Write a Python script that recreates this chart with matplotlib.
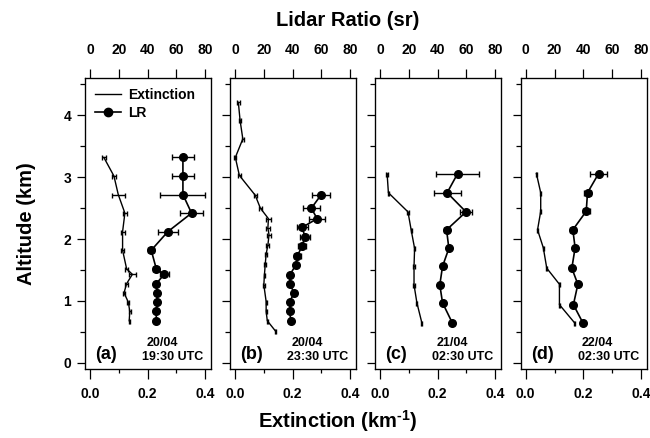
import matplotlib
matplotlib.use("Agg")
import matplotlib.pyplot as plt
from matplotlib.lines import Line2D
import numpy as np

plt.rcParams['font.family'] = ['Liberation Sans', 'DejaVu Sans']
plt.rcParams['font.weight'] = 'bold'
plt.rcParams['mathtext.fontset'] = 'custom'
plt.rcParams['mathtext.rm'] = 'Liberation Sans:bold'
plt.rcParams['mathtext.bf'] = 'Liberation Sans:bold'
plt.rcParams['mathtext.default'] = 'bf'

# panel (a) 20/04 19:30 UTC
alt_a = [3.32, 3.02, 2.72, 2.42, 2.12, 1.82, 1.52, 1.43, 1.28, 1.13, 0.98, 0.83, 0.68]
ext_a = [0.048, 0.083, 0.098, 0.121, 0.113, 0.113, 0.127, 0.147, 0.127, 0.118, 0.133, 0.138, 0.136]
ext_err_a = [0.006, 0.006, 0.022, 0.007, 0.007, 0.005, 0.005, 0.013, 0.004, 0.004, 0.004, 0.003, 0.002]
lr_a = [64.5, 64.5, 64.5, 70.5, 54.0, 42.5, 46.0, 51.5, 46.0, 46.5, 46.5, 46.0, 46.0]
lr_err_a = [7.8, 7.8, 15.6, 8.0, 7.0, 2.0, 2.0, 3.0, 1.5, 1.5, 1.5, 1.0, 1.0]

# panel (b) 20/04 23:30 UTC
alt_ext_b = [4.21, 3.92, 3.62, 3.32, 3.03, 2.71, 2.50, 2.33, 2.18, 2.07, 1.90, 1.76, 1.60, 1.42, 1.26, 0.99, 0.83, 0.68, 0.51]
ext_b = [0.0115, 0.0175, 0.027, 0.001, 0.015, 0.070, 0.088, 0.116, 0.114, 0.118, 0.114, 0.108, 0.105, 0.102, 0.100, 0.108, 0.108, 0.112, 0.141]
ext_err_b = [0.005, 0.004, 0.003, 0.004, 0.004, 0.005, 0.006, 0.010, 0.006, 0.006, 0.005, 0.004, 0.004, 0.003, 0.003, 0.002, 0.002, 0.002, 0.002]
alt_lr_b = [2.71, 2.50, 2.33, 2.19, 2.04, 1.89, 1.73, 1.58, 1.42, 1.28, 1.13, 0.99, 0.83, 0.68]
lr_b = [59.6, 53.0, 57.0, 46.6, 48.5, 46.6, 43.3, 42.2, 38.0, 38.0, 41.0, 38.0, 38.0, 38.7]
lr_err_b = [6.4, 6.0, 5.7, 3.8, 3.5, 3.0, 2.5, 1.5, 1.5, 1.0, 1.0, 1.0, 1.0, 1.0]

# panel (c) 21/04 02:30 UTC
alt_c = [3.06, 2.75, 2.44, 2.15, 1.85, 1.56, 1.26, 0.97, 0.65]
ext_c = [0.0245, 0.029, 0.097, 0.108, 0.120, 0.118, 0.118, 0.128, 0.145]
ext_err_c = [0.003, 0.003, 0.003, 0.002, 0.002, 0.002, 0.002, 0.002, 0.002]
lr_c = [53.9, 46.6, 59.7, 46.2, 47.8, 43.4, 41.5, 43.4, 50.1]
lr_err_c = [15.0, 9.3, 4.5, 2.0, 1.0, 1.0, 1.0, 1.0, 1.0]

# panel (d) 22/04 02:30 UTC
alt_d = [3.06, 2.75, 2.45, 2.15, 1.86, 1.53, 1.27, 0.94, 0.65]
ext_d = [0.037, 0.052, 0.052, 0.041, 0.061, 0.073, 0.117, 0.117, 0.169]
ext_err_d = [0.002, 0.002, 0.002, 0.002, 0.001, 0.001, 0.001, 0.001, 0.001]
lr_d = [50.6, 42.9, 42.0, 32.7, 34.3, 32.0, 36.2, 33.1, 39.6]
lr_err_d = [5.8, 2.5, 2.5, 2.0, 1.0, 1.0, 1.0, 1.0, 1.0]

panels = [
    ('(a)', '20/04', '19:30 UTC', alt_a, ext_a, ext_err_a, alt_a, lr_a, lr_err_a),
    ('(b)', '20/04', '23:30 UTC', alt_ext_b, ext_b, ext_err_b, alt_lr_b, lr_b, lr_err_b),
    ('(c)', '21/04', '02:30 UTC', alt_c, ext_c, ext_err_c, alt_c, lr_c, lr_err_c),
    ('(d)', '22/04', '02:30 UTC', alt_d, ext_d, ext_err_d, alt_d, lr_d, lr_err_d),
]

W, H = 650, 438
fig = plt.figure(figsize=(6.5, 4.38), dpi=100)
lefts = [85, 230, 375, 520.7]
pw, top, bot = 126, 78.3, 369
xlim = (-0.0175, 0.42)

for i, (tag, day, hour, ae, ex, exe, al, lr, lre) in enumerate(panels):
    ax = fig.add_axes([lefts[i] / W, (H - bot) / H, pw / W, (bot - top) / H])
    ax.errorbar(ex, ae, xerr=exe, color='black', lw=1.0, elinewidth=1.0,
                capsize=1.8, capthick=1.0)
    ax.set_xlim(xlim)
    ax.set_ylim(-0.1, 4.6)
    ax.set_xticks([0, 0.2, 0.4])
    ax.set_xticklabels(['0.0', '0.2', '0.4'])
    ax.set_xticks([0.1, 0.3], minor=True)
    ax.set_yticks([0, 1, 2, 3, 4])
    ax.set_yticks([0.5, 1.5, 2.5, 3.5, 4.5], minor=True)
    ax.tick_params(axis='x', which='major', length=7, width=0.9, labelsize=10, pad=6)
    ax.tick_params(axis='x', which='minor', length=3, width=0.9)
    ax.tick_params(axis='y', which='major', length=6, width=0.9, labelsize=10, pad=4)
    ax.tick_params(axis='y', which='minor', length=3.5, width=0.9)
    if i > 0:
        ax.set_yticklabels([])
    for s in ax.spines.values():
        s.set_linewidth(0.9)

    ax2 = ax.twiny()
    ax2.errorbar(lr, al, xerr=lre, color='black', lw=1.2, marker='o', ms=5.5,
                 elinewidth=1.0, capsize=2.5, capthick=1.0)
    ax2.set_xlim(xlim[0] * 200, xlim[1] * 200)
    ax2.set_xticks([0, 20, 40, 60, 80])
    ax2.tick_params(axis='x', length=6.5, width=0.9, labelsize=10, pad=9)

    ax.text(0.08, 0.05, tag, transform=ax.transAxes, fontsize=13,
            fontweight='bold', ha='left', va='center')
    ax.text(0.487, 0.09, day, transform=ax.transAxes, fontsize=9,
            fontweight='bold', ha='left', va='center')
    ax.text(0.455, 0.042, hour, transform=ax.transAxes, fontsize=9,
            fontweight='bold', ha='left', va='center')

    if i == 0:
        ax.set_ylabel('Altitude (km)', fontsize=14.5, fontweight='bold', labelpad=20)
        handles = [Line2D([], [], color='black', lw=1.0),
                   Line2D([], [], color='black', lw=1.2, marker='o', ms=6)]
        ax.legend(handles, ['Extinction', 'LR'], loc='upper left', frameon=False,
                  fontsize=10, handlelength=1.9, handletextpad=0.5,
                  labelspacing=0.3, borderaxespad=0.3, bbox_to_anchor=(0.0, 1.0))

fig.text(0.535, 1 - 20 / H, 'Lidar Ratio (sr)', fontsize=14.5, fontweight='bold',
         ha='center', va='center')
fig.text(0.52, 1 - 421 / H, r'Extinction (km$^{\text{-1}}$)', fontsize=14.5,
         fontweight='bold', ha='center', va='center')

fig.savefig('out.png', dpi=100)
